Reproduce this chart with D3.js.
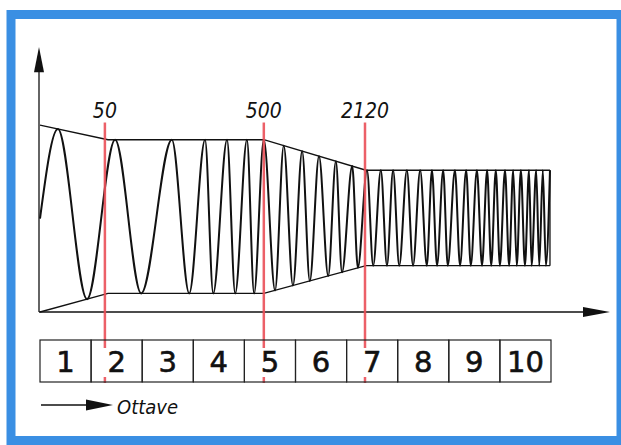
<!DOCTYPE html>
<html>
<head>
<meta charset="utf-8">
<script src="https://cdn.jsdelivr.net/npm/d3@7"></script>
<style>
  html, body { margin: 0; padding: 0; background: #fff; }
  svg { display: block; }
</style>
</head>
<body>
<div id="chart"></div>
<script>
// octave boxes along the bottom
let boxLabels = ['1', '2', '3', '4', '5', '6', '7', '8', '9', '10']

// red frequency markers (position in octave units)
let markerLabels = ['50', '500', '2120']
let markerOctaves = [1.27, 4.38, 6.36]

// envelope corners (octave, top level, bottom level)
let envOctaves = [0, 1.33, 4.38, 6.38, 9.98]
let envTop = [70.5, 65, 65, 53.5, 53.5]
let envBottom = [0, 7, 7, 17.5, 17.5]

// wave extrema: start, peak, trough, peak, ...
let waveOctaves = [
  0, 0.35, 0.92, 1.47, 1.98, 2.58, 2.92, 3.23, 3.39, 3.66, 3.82, 4.05, 4.19,
  4.38, 4.6, 4.77, 4.95, 5.13, 5.28, 5.46, 5.64, 5.79, 5.91, 6.11, 6.22,
  6.4, 6.52, 6.67, 6.79, 6.91, 7.03, 7.18, 7.3, 7.44, 7.57, 7.67, 7.77,
  7.89, 7.98, 8.12, 8.22, 8.34, 8.43, 8.55, 8.65, 8.75, 8.83, 8.92, 9.0,
  9.1, 9.18, 9.26, 9.33, 9.41, 9.49, 9.57, 9.62, 9.71, 9.77, 9.84, 9.9, 9.98
]

let width = 621
let height = 445

let svg = d3.select('#chart')
  .append('svg')
  .attr('width', width)
  .attr('height', height)

let x = d3.scaleLinear().domain([0, 10]).range([40, 551])
let y = d3.scaleLinear().domain([0, 100]).range([312, 47])

let topScale = d3.scaleLinear().domain(envOctaves).range(envTop)
let bottomScale = d3.scaleLinear().domain(envOctaves).range(envBottom)

let boxTop = 340
let boxBottom = 382
let ink = '#111'
let red = '#eb4f58'
let condensed = '"DejaVu Sans Condensed", "DejaVu Sans", sans-serif'

// blue frame
svg.append('rect')
  .attr('x', 11)
  .attr('y', 14.5)
  .attr('width', 610)
  .attr('height', 426)
  .attr('fill', 'none')
  .attr('stroke', '#3a8fe3')
  .attr('stroke-width', 9)

// envelope
let envTopLine = d3.line()
  .x(d => x(d))
  .y(d => y(topScale(d)))
let envBottomLine = d3.line()
  .x(d => x(d))
  .y(d => y(bottomScale(d)))

svg.append('path')
  .attr('d', envTopLine(envOctaves))
  .attr('fill', 'none')
  .attr('stroke', ink)
  .attr('stroke-width', 1.3)

svg.append('path')
  .attr('d', envBottomLine(envOctaves))
  .attr('fill', 'none')
  .attr('stroke', ink)
  .attr('stroke-width', 1.3)

let lastOct = envOctaves[envOctaves.length - 1]
svg.append('line')
  .attr('x1', x(lastOct))
  .attr('x2', x(lastOct))
  .attr('y1', y(topScale(lastOct)))
  .attr('y2', y(bottomScale(lastOct)))
  .attr('stroke', ink)
  .attr('stroke-width', 1.3)

// the wave
let wavePoints = waveOctaves.map((o, i) => {
  let v
  if (i === 0) v = (topScale(o) + bottomScale(o)) / 2
  else v = i % 2 === 1 ? topScale(o) : bottomScale(o)
  return [o, v]
})

let waveLine = d3.line()
  .x(d => x(d[0]))
  .y(d => y(d[1]))
  .curve(d3.curveMonotoneX)

svg.append('path')
  .attr('d', waveLine(wavePoints))
  .attr('fill', 'none')
  .attr('stroke', ink)
  .attr('stroke-width', 2)
  .attr('stroke-linejoin', 'round')

// axes with arrow heads
let x0 = x(0) - 1
svg.append('line')
  .attr('x1', x0).attr('x2', x0)
  .attr('y1', y(0)).attr('y2', y(92))
  .attr('stroke', ink)
  .attr('stroke-width', 1.3)
svg.append('path')
  .attr('d', `M${x0},${y(100)} L${x0 - 5},${y(90.5)} L${x0 + 5},${y(90.5)} Z`)
  .attr('fill', ink)

svg.append('line')
  .attr('x1', x0).attr('x2', 590)
  .attr('y1', y(0)).attr('y2', y(0))
  .attr('stroke', ink)
  .attr('stroke-width', 1.3)
svg.append('path')
  .attr('d', `M610,${y(0)} L583,${y(0) - 5} L583,${y(0) + 5} Z`)
  .attr('fill', ink)

// red markers (hidden behind the digits inside the boxes)
let markers = svg.selectAll('.marker')
  .data(markerLabels)
  .enter()
  .append('g')
  .attr('class', 'marker')

markers.append('line')
  .attr('x1', (d, i) => x(markerOctaves[i]))
  .attr('x2', (d, i) => x(markerOctaves[i]))
  .attr('y1', y(71.5))
  .attr('y2', boxTop + 8)
  .attr('stroke', red)
  .attr('stroke-width', 2.5)
  .attr('opacity', 0.9)

markers.append('line')
  .attr('x1', (d, i) => x(markerOctaves[i]))
  .attr('x2', (d, i) => x(markerOctaves[i]))
  .attr('y1', boxBottom - 5)
  .attr('y2', boxBottom + 1)
  .attr('stroke', red)
  .attr('stroke-width', 2.5)
  .attr('opacity', 0.9)

markers.append('text')
  .text(d => d)
  .attr('x', (d, i) => x(markerOctaves[i]))
  .attr('y', 118)
  .attr('text-anchor', 'middle')
  .attr('font-family', condensed)
  .attr('font-style', 'italic')
  .attr('font-size', 21)
  .attr('fill', ink)

// octave boxes
let boxes = svg.selectAll('.box')
  .data(boxLabels)
  .enter()
  .append('g')
  .attr('class', 'box')

boxes.append('rect')
  .attr('x', (d, i) => x(i))
  .attr('y', boxTop)
  .attr('width', (d, i) => x(i + 1) - x(i))
  .attr('height', boxBottom - boxTop)
  .attr('fill', 'none')
  .attr('stroke', '#222')
  .attr('stroke-width', 1.2)

boxes.append('text')
  .text(d => d)
  .attr('x', (d, i) => x(i + 0.5))
  .attr('y', 372)
  .attr('text-anchor', 'middle')
  .attr('font-family', '"DejaVu Sans", sans-serif')
  .attr('font-size', 29)
  .attr('fill', ink)
  .attr('stroke', ink)
  .attr('stroke-width', 0.6)

// "Ottave" legend arrow
svg.append('line')
  .attr('x1', 41).attr('x2', 95)
  .attr('y1', 405).attr('y2', 405)
  .attr('stroke', ink)
  .attr('stroke-width', 1.5)
svg.append('path')
  .attr('d', 'M113,405 L86,399.5 L86,410.5 Z')
  .attr('fill', ink)

svg.append('text')
  .text('Ottave')
  .attr('x', 117)
  .attr('y', 414)
  .attr('font-family', condensed)
  .attr('font-style', 'italic')
  .attr('font-size', 20)
  .attr('fill', ink)
</script>
</body>
</html>
